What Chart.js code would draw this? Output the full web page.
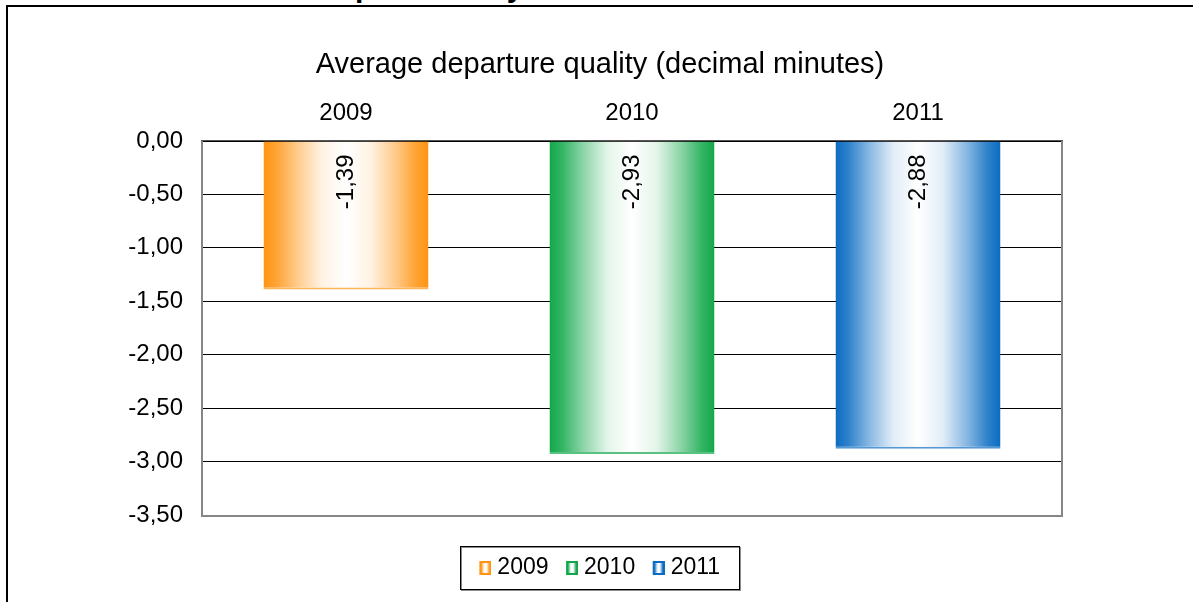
<!DOCTYPE html>
<html><head><meta charset="utf-8">
<style>
html,body{margin:0;padding:0;background:#fff;overflow:hidden;width:1193px;height:602px;}
#frame{position:absolute;left:6px;top:5px;width:1300px;height:700px;border-left:2px solid #000;border-top:2px solid #000;pointer-events:none;}
#heading{position:absolute;left:90px;top:-28px;font:bold 30px "Liberation Sans",Arial,sans-serif;line-height:30px;white-space:nowrap;color:#000;}
canvas{position:absolute;left:0;top:0;}
</style>
<script src="https://cdn.jsdelivr.net/npm/chart.js@4.4.1/dist/chart.umd.min.js"></script>
</head><body>
<div id="heading">3.2&nbsp;&nbsp;Results of the past three years</div>
<canvas id="c" width="1193" height="602"></canvas>
<div id="frame"></div>
<script>
const categories = ['2009', '2010', '2011'];
const seriesNames = ['2009', '2010', '2011'];
const values = [-1.39, -2.93, -2.88];
const seriesColors = ['#FF9412', '#12A84A', '#0B6CC2'];
const yTickLabels = ['0,00', '-0,50', '-1,00', '-1,50', '-2,00', '-2,50', '-3,00', '-3,50'];
const chartTitle = 'Average departure quality (decimal minutes)';

const FONT = "'Liberation Sans', Arial, sans-serif";
const BAR_PCT = 0.577;
Chart.defaults.font.family = FONT;
Chart.defaults.color = '#000';

function mix(hex, t) {
  const r = parseInt(hex.slice(1, 3), 16), g = parseInt(hex.slice(3, 5), 16), b = parseInt(hex.slice(5, 7), 16);
  const f = c => Math.round(255 + (c - 255) * t);
  return 'rgb(' + f(r) + ',' + f(g) + ',' + f(b) + ')';
}
const STOPS = [[0, 1], [0.08, 0.85], [0.2, 0.5], [0.35, 0.12], [0.5, 0], [0.65, 0.12], [0.8, 0.5], [0.92, 0.85], [1, 1]];
function barGradient(ctx, color) {
  const chart = ctx.chart;
  if (!chart.chartArea || ctx.dataIndex === undefined) return color;
  const xs = chart.scales.x;
  const cw = xs.width / categories.length;
  const cx = xs.getPixelForValue(ctx.dataIndex);
  const half = cw * BAR_PCT / 2;
  const g = chart.ctx.createLinearGradient(cx - half, 0, cx + half, 0);
  STOPS.forEach(s => g.addColorStop(s[0], mix(color, s[1])));
  return g;
}
function legendIcon(color) {
  const c = document.createElement('canvas');
  c.width = 17; c.height = 14;
  const x = c.getContext('2d');
  x.fillStyle = color;
  x.fillRect(5, 0, 12, 14);
  const g = x.createLinearGradient(7, 0, 15, 0);
  STOPS.forEach(s => g.addColorStop(s[0], mix(color, Math.max(0, s[1] - 0.1))));
  x.fillStyle = g;
  x.fillRect(7, 2, 8, 10);
  return c;
}
function fmt(v) { return v.toFixed(2).replace('.', ','); }

const datasets = seriesNames.map((name, i) => ({
  label: name,
  data: categories.map((c, j) => (j === i ? values[i] : null)),
  backgroundColor: ctx => barGradient(ctx, seriesColors[i]),
  borderColor: mix(seriesColors[i], 0.7),
  borderWidth: {top: 0, left: 0, right: 0, bottom: 2},
  borderSkipped: false,
  grouped: false,
  categoryPercentage: 1,
  barPercentage: BAR_PCT
}));
const icons = seriesColors.map(legendIcon);

const frame = {
  id: 'frame',
  beforeDatasetsDraw(chart) {
    const a = chart.chartArea, ctx = chart.ctx;
    ctx.save();
    ctx.fillStyle = '#868686';
    ctx.fillRect(a.left - 2, a.top - 1, 2, a.bottom - a.top + 3);
    ctx.fillRect(a.right, a.top - 1, 2, a.bottom - a.top + 3);
    ctx.fillRect(a.left - 2, a.bottom, a.right - a.left + 4, 2);
    ctx.fillStyle = '#555';
    ctx.fillRect(a.left - 2, a.top - 1, a.right - a.left + 4, 1);
    ctx.restore();
  }
};
const valueLabels = {
  id: 'valueLabels',
  afterDatasetsDraw(chart) {
    const ctx = chart.ctx;
    chart.data.datasets.forEach((ds, di) => {
      const meta = chart.getDatasetMeta(di);
      meta.data.forEach((bar, i) => {
        const v = ds.data[i];
        if (v === null || v === undefined) return;
        ctx.save();
        ctx.translate(bar.x, Math.min(bar.y, bar.base) + 13);
        ctx.rotate(-Math.PI / 2);
        ctx.font = '24px ' + FONT;
        ctx.fillStyle = '#000';
        ctx.textAlign = 'right';
        ctx.textBaseline = 'middle';
        ctx.fillText(fmt(v), 0, 0);
        ctx.restore();
      });
    });
  }
};
const legendBox = {
  id: 'legendBox',
  afterDraw(chart) {
    const hb = chart.legend.legendHitBoxes;
    if (!hb || !hb.length) return;
    const first = hb[0], last = hb[hb.length - 1];
    const cy = first.top + first.height / 2;
    const x0 = Math.round(first.left - 20) + 0.5, x1 = Math.round(last.left + last.width + 19) + 0.5;
    const y0 = Math.round(cy - 22) + 0.5, y1 = Math.round(cy + 21) + 0.5;
    const ctx = chart.ctx;
    ctx.save();
    ctx.strokeStyle = '#8a8a8a';
    ctx.lineWidth = 1;
    ctx.strokeRect(x0 + 1, y0 + 1, x1 - x0, y1 - y0);
    ctx.strokeStyle = '#000';
    ctx.strokeRect(x0, y0, x1 - x0, y1 - y0);
    ctx.restore();
  }
};

new Chart(document.getElementById('c'), {
  type: 'bar',
  data: {labels: categories, datasets: datasets},
  options: {
    responsive: false,
    devicePixelRatio: 1,
    animation: false,
    events: [],
    layout: {padding: {left: 7, right: 0, top: 0, bottom: 12.5}},
    scales: {
      x: {
        position: 'top',
        grid: {display: false, drawTicks: false},
        border: {display: false},
        ticks: {padding: 13, color: '#000', font: {size: 24}},
        afterFit: s => { s.height = 58.6; }
      },
      x2: {
        type: 'category', labels: categories, position: 'bottom', display: true,
        grid: {display: false, drawTicks: false}, border: {display: false},
        ticks: {display: false},
        afterFit: s => { s.height = 23.5; }
      },
      y: {
        min: -3.5, max: 0,
        ticks: {stepSize: 0.5, padding: 20, color: '#000', font: {size: 24},
          callback: v => yTickLabels[Math.round(-v / 0.5)]},
        grid: {color: '#000', lineWidth: 1, drawTicks: false},
        border: {display: false},
        afterFit: s => { s.width = 196; }
      },
      y2: {
        position: 'right', display: true,
        grid: {display: false, drawTicks: false}, border: {display: false},
        ticks: {display: false},
        afterFit: s => { s.width = 132; }
      }
    },
    plugins: {
      tooltip: {enabled: false},
      title: {display: true, text: chartTitle, color: '#000', font: {size: 29, weight: 'normal'}, padding: {top: 47.6, bottom: 0}},
      legend: {
        position: 'bottom',
        labels: {
          usePointStyle: true, boxWidth: 6, boxHeight: 11, padding: 18, color: '#000', font: {size: 23},
          generateLabels: chart => seriesNames.map((n, i) => ({
            text: n, pointStyle: icons[i], fillStyle: seriesColors[i], strokeStyle: seriesColors[i],
            lineWidth: 0, hidden: false, datasetIndex: i, fontColor: '#000'
          }))
        }
      }
    }
  },
  plugins: [frame, valueLabels, legendBox]
});
</script>
</body></html>
